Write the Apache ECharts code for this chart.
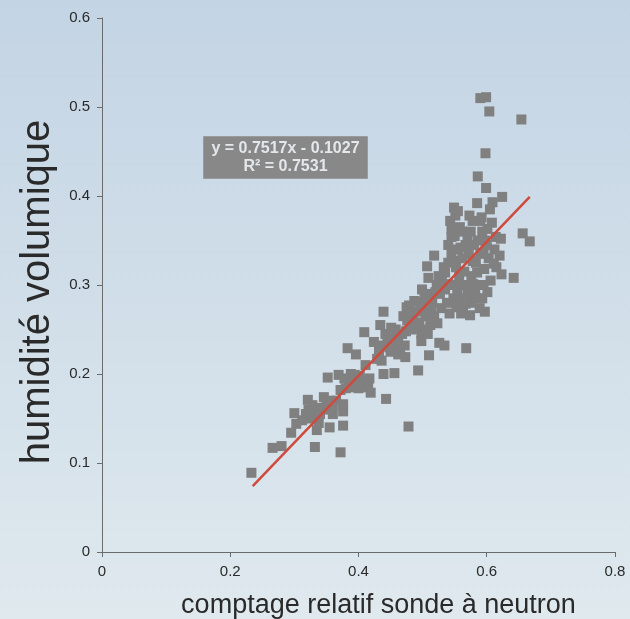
<!DOCTYPE html>
<html>
<head>
<meta charset="utf-8">
<script src="https://cdn.jsdelivr.net/npm/echarts@6/dist/echarts.min.js"></script>
<style>
  html, body { margin: 0; padding: 0; }
  #chart { width: 630px; height: 619px; }
</style>
</head>
<body>
<div id="chart"></div>
<script>
// measured points (x = comptage relatif, y = humidité volumique)
const pointsX = [
  0.233, 0.266, 0.280, 0.295, 0.300, 0.303, 0.321, 0.322, 0.332, 0.335, 0.341, 0.346, 0.352, 0.355, 0.360,
  0.369, 0.372, 0.376, 0.376, 0.376, 0.380, 0.383, 0.396, 0.394, 0.400, 0.409, 0.411, 0.417, 0.419, 0.424,
  0.429, 0.434, 0.439, 0.439, 0.443, 0.445, 0.451, 0.456, 0.457, 0.465, 0.473, 0.474, 0.476, 0.478, 0.479,
  0.485, 0.492, 0.493, 0.495, 0.498, 0.499, 0.507, 0.509, 0.510, 0.513, 0.518, 0.520, 0.523, 0.526, 0.529,
  0.534, 0.535, 0.540, 0.542, 0.545, 0.545, 0.548, 0.549, 0.551, 0.554, 0.557, 0.559, 0.560, 0.567, 0.568,
  0.570, 0.573, 0.574, 0.578, 0.579, 0.582, 0.585, 0.585, 0.586, 0.589, 0.590, 0.592, 0.595, 0.597, 0.598,
  0.599, 0.599, 0.601, 0.601, 0.604, 0.608, 0.609, 0.611, 0.614, 0.620, 0.622, 0.623, 0.624, 0.642, 0.654,
  0.656, 0.667,
  0.540, 0.545, 0.550, 0.552, 0.555, 0.558, 0.560, 0.562, 0.565, 0.567, 0.570, 0.572, 0.575, 0.576, 0.580,
  0.583, 0.586, 0.588, 0.590, 0.593, 0.596, 0.600, 0.603, 0.546, 0.548, 0.553, 0.556, 0.563, 0.568, 0.575,
  0.580, 0.585, 0.538, 0.535, 0.530, 0.527, 0.533, 0.540, 0.543, 0.555, 0.562, 0.578, 0.590, 0.605, 0.597,
  0.612, 0.615, 0.606, 0.595, 0.593,
  0.470, 0.475, 0.480, 0.483, 0.487, 0.490, 0.495, 0.500, 0.503, 0.505, 0.510, 0.515, 0.518, 0.522, 0.525,
  0.468, 0.472, 0.462, 0.458, 0.453, 0.448, 0.455, 0.462, 0.485, 0.498, 0.508, 0.512, 0.505,
  0.318, 0.325, 0.330, 0.335, 0.340, 0.345, 0.328, 0.338, 0.312, 0.350, 0.355, 0.360, 0.365,
  0.385, 0.390, 0.398, 0.405, 0.410, 0.415, 0.388, 0.402, 0.372, 0.378,
  0.432, 0.438, 0.442, 0.447, 0.450, 0.436
];
const pointsY = [
  0.089, 0.117, 0.119, 0.134, 0.156, 0.144, 0.171, 0.160, 0.118, 0.137, 0.162, 0.174, 0.196, 0.140, 0.155,
  0.199, 0.112, 0.142, 0.166, 0.158, 0.184, 0.229, 0.222, 0.199, 0.184, 0.247, 0.210, 0.195, 0.179, 0.236,
  0.217, 0.255, 0.270, 0.200, 0.172, 0.239, 0.252, 0.201, 0.230, 0.224, 0.219, 0.248, 0.260, 0.141, 0.277,
  0.268, 0.252, 0.204, 0.281, 0.237, 0.295, 0.321, 0.308, 0.221, 0.270, 0.333, 0.292, 0.257, 0.235, 0.274,
  0.232, 0.314, 0.301, 0.268, 0.363, 0.354, 0.327, 0.387, 0.378, 0.292, 0.310, 0.342, 0.268, 0.279, 0.229,
  0.350, 0.378, 0.266, 0.327, 0.301, 0.290, 0.314, 0.392, 0.422, 0.274, 0.510, 0.376, 0.336, 0.270, 0.448,
  0.511, 0.409, 0.363, 0.292, 0.495, 0.370, 0.393, 0.324, 0.354, 0.333, 0.352, 0.312, 0.399, 0.308, 0.486,
  0.358, 0.349,
  0.345, 0.335, 0.355, 0.320, 0.340, 0.365, 0.300, 0.330, 0.315, 0.345, 0.290, 0.335, 0.360, 0.310, 0.345,
  0.325, 0.350, 0.300, 0.335, 0.360, 0.318, 0.345, 0.330, 0.300, 0.285, 0.275, 0.285, 0.270, 0.300, 0.280,
  0.295, 0.285, 0.280, 0.295, 0.305, 0.290, 0.320, 0.325, 0.372, 0.383, 0.360, 0.372, 0.372, 0.385, 0.350,
  0.340, 0.320, 0.305, 0.300, 0.285,
  0.265, 0.275, 0.262, 0.250, 0.282, 0.270, 0.258, 0.275, 0.285, 0.250, 0.290, 0.280, 0.265, 0.300, 0.310,
  0.245, 0.232, 0.240, 0.250, 0.240, 0.230, 0.228, 0.222, 0.258, 0.245, 0.245, 0.255, 0.265,
  0.155, 0.150, 0.158, 0.150, 0.155, 0.160, 0.165, 0.145, 0.148, 0.165, 0.170, 0.165, 0.170,
  0.185, 0.190, 0.186, 0.188, 0.192, 0.185, 0.200, 0.198, 0.182, 0.195,
  0.225, 0.232, 0.245, 0.240, 0.225, 0.215
];
// trend line end points, as drawn
const trendX = [0.235, 0.667];
const trendY = [0.074, 0.399];
const xTicks = ['0', '0.2', '0.4', '0.6', '0.8'];
const yTicks = ['0', '0.1', '0.2', '0.3', '0.4', '0.5', '0.6'];
const equationLines = ['y = 0.7517x - 0.1027', 'R² = 0.7531'];

(function() {
  const chartDom = document.getElementById('chart');
  const chart = echarts.init(chartDom);

  const font = '"Liberation Sans", Arial, sans-serif';
  const axisColor = '#6b6b6b';
  const textColor = '#2a2a2a';

  const scatterData = pointsX.map((x, i) => [x, pointsY[i]]);
  const trendData = trendX.map((x, i) => [x, trendY[i]]);

  const option = {
    backgroundColor: {
      type: 'linear', x: 0, y: 0, x2: 0, y2: 1,
      colorStops: [
        { offset: 0, color: '#c3d4e4' },
        { offset: 1, color: '#dfe9ee' }
      ]
    },
    animation: false,
    grid: { left: 102, right: 15, top: 18, bottom: 67, outerBoundsMode: 'none', containLabel: false },
    xAxis: {
      type: 'value',
      min: 0, max: 0.8, interval: 0.2,
      name: 'comptage relatif sonde à neutron',
      nameLocation: 'middle',
      nameGap: 40,
      nameTextStyle: { fontFamily: font, fontSize: 27, color: textColor, padding: [0, 0, 0, 40] },
      axisLine: { show: true, lineStyle: { color: axisColor, width: 1 } },
      axisTick: { show: true, length: 5, lineStyle: { color: axisColor } },
      axisLabel: {
        fontFamily: font, fontSize: 15, color: textColor, margin: 12,
        formatter: (v) => xTicks[Math.round(v / 0.2)]
      },
      splitLine: { show: false }
    },
    yAxis: {
      type: 'value',
      min: 0, max: 0.6, interval: 0.1,
      name: 'humidité volumique',
      nameLocation: 'middle',
      nameGap: 36,
      nameTextStyle: { fontFamily: font, fontSize: 40, color: textColor, padding: [0, 14, 0, 0] },
      axisLine: { show: true, lineStyle: { color: axisColor, width: 1 } },
      axisTick: { show: true, length: 5, lineStyle: { color: axisColor } },
      axisLabel: {
        fontFamily: font, fontSize: 15, color: textColor, margin: 12,
        formatter: (v) => yTicks[Math.round(v / 0.1)]
      },
      splitLine: { show: false }
    },
    series: [
      {
        type: 'scatter',
        symbol: 'rect',
        symbolSize: 10,
        itemStyle: { color: '#808080', opacity: 1 },
        data: scatterData,
        z: 2
      },
      {
        type: 'line',
        data: trendData,
        symbol: 'none',
        lineStyle: { color: '#cf4a3c', width: 2.5 },
        z: 3
      }
    ],
    graphic: [
      {
        type: 'group',
        left: 203,
        top: 136,
        children: [
          {
            type: 'rect',
            shape: { x: 0, y: 0, width: 164, height: 42 },
            style: { fill: '#888888', stroke: '#9a9a9a', lineWidth: 1 }
          },
          {
            type: 'text',
            x: 82, y: 3,
            style: {
              text: equationLines.join('\n'),
              fill: '#e4e8ec',
              font: 'bold 16px ' + font,
              align: 'center',
              lineHeight: 18
            }
          }
        ]
      }
    ]
  };

  chart.setOption(option);
})();
</script>
</body>
</html>
